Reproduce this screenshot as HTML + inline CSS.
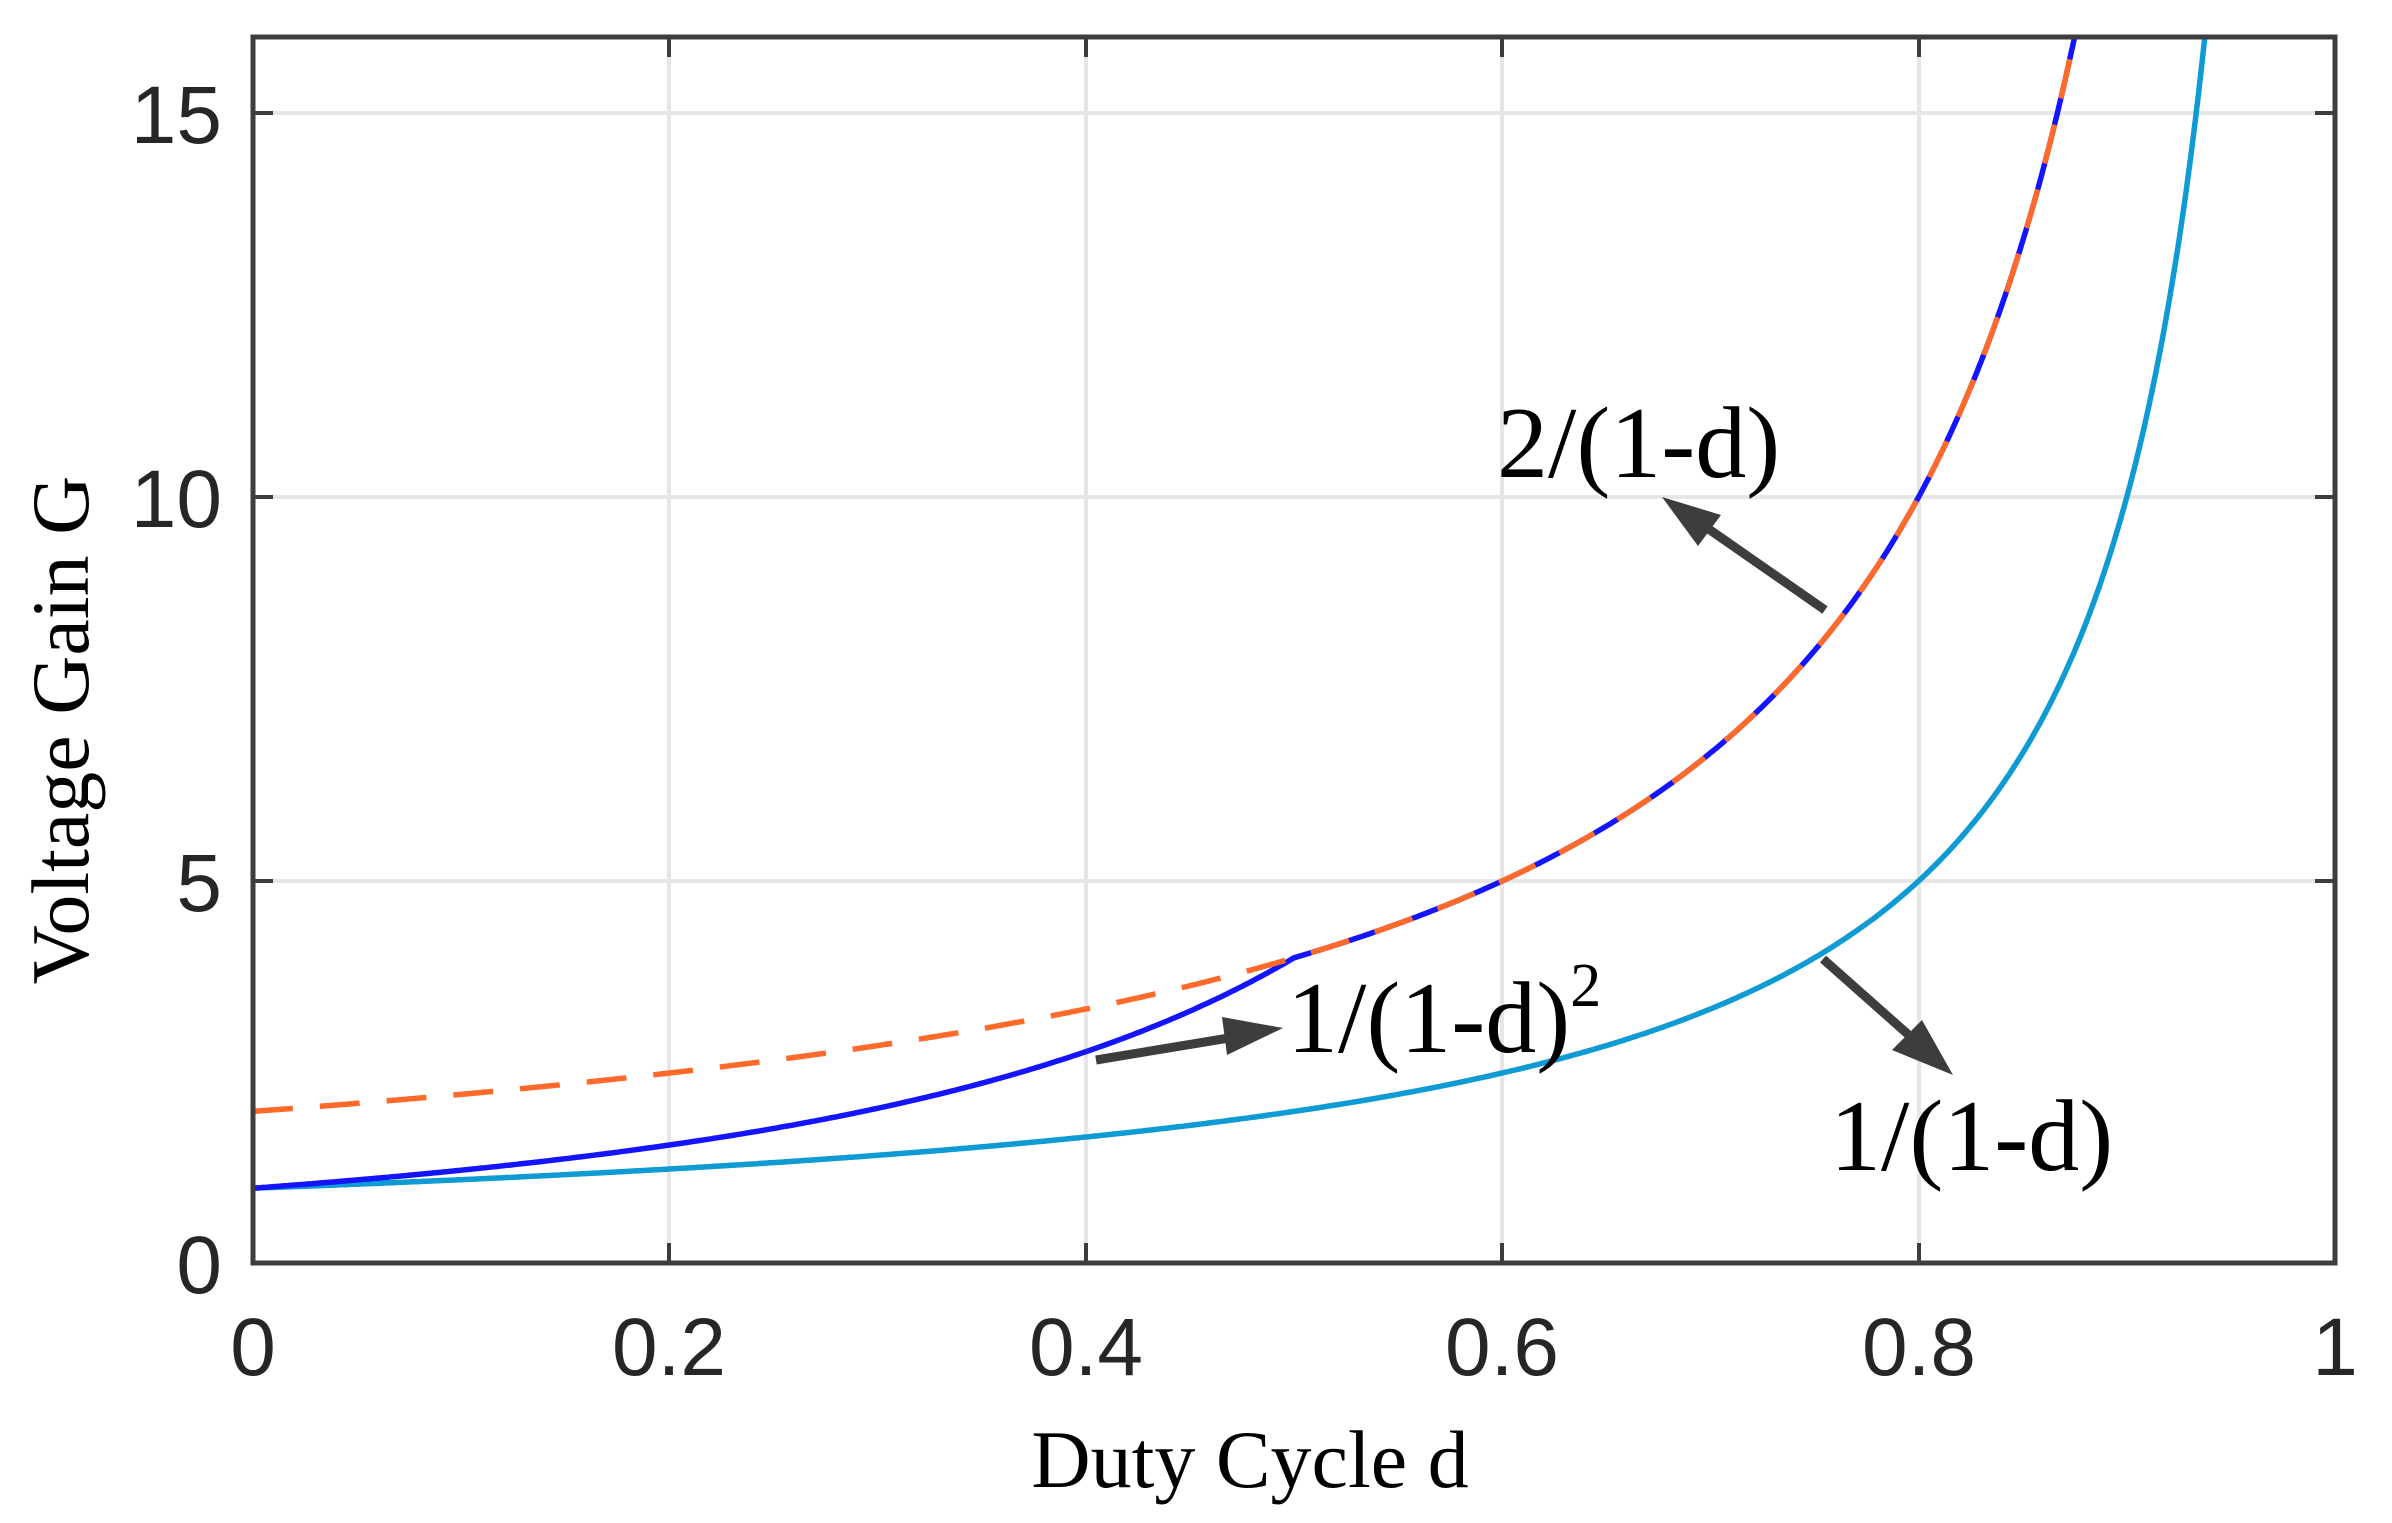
<!DOCTYPE html>
<html><head><meta charset="utf-8"><style>
html,body{margin:0;padding:0;background:#fff;}
svg{display:block;}
.tk{font-family:"Liberation Sans",Arial,sans-serif;font-size:82px;fill:#262626;}
.sr{font-family:"Liberation Serif","Times New Roman",serif;fill:#000;}
</style></head><body>
<svg id="s" width="2392" height="1523" viewBox="0 0 2392 1523" xmlns="http://www.w3.org/2000/svg">
<rect width="2392" height="1523" fill="#fff"/>
<g id="grid" stroke="#e6e6e6" stroke-width="4">
<line x1="669" y1="37" x2="669" y2="1263"/>
<line x1="1086" y1="37" x2="1086" y2="1263"/>
<line x1="1502" y1="37" x2="1502" y2="1263"/>
<line x1="1919" y1="37" x2="1919" y2="1263"/>
<line x1="253" y1="113" x2="2335" y2="113"/>
<line x1="253" y1="497" x2="2335" y2="497"/>
<line x1="253" y1="881" x2="2335" y2="881"/>
</g>
<g id="curves" fill="none" stroke-width="5" stroke-linejoin="round"></g>
<rect x="253" y="37" width="2082" height="1226" fill="none" stroke="#3d3d3d" stroke-width="5"/>
<g stroke="#3d3d3d" stroke-width="4">
<line x1="669" y1="1263" x2="669" y2="1243"/><line x1="1086" y1="1263" x2="1086" y2="1243"/>
<line x1="1502" y1="1263" x2="1502" y2="1243"/><line x1="1919" y1="1263" x2="1919" y2="1243"/>
<line x1="669" y1="37" x2="669" y2="57"/><line x1="1086" y1="37" x2="1086" y2="57"/>
<line x1="1502" y1="37" x2="1502" y2="57"/><line x1="1919" y1="37" x2="1919" y2="57"/>
<line x1="253" y1="113" x2="273" y2="113"/><line x1="253" y1="497" x2="273" y2="497"/><line x1="253" y1="881" x2="273" y2="881"/>
<line x1="2335" y1="113" x2="2315" y2="113"/><line x1="2335" y1="497" x2="2315" y2="497"/><line x1="2335" y1="881" x2="2315" y2="881"/>
</g>
<g class="tk" text-anchor="end">
<text x="222" y="143">15</text>
<text x="222" y="527">10</text>
<text x="222" y="911">5</text>
<text x="222" y="1293">0</text>
</g>
<g class="tk" text-anchor="middle">
<text x="253" y="1375">0</text>
<text x="669" y="1375">0.2</text>
<text x="1086" y="1375">0.4</text>
<text x="1502" y="1375">0.6</text>
<text x="1919" y="1375">0.8</text>
<text x="2335" y="1375">1</text>
</g>
<text class="sr" x="1250" y="1487" font-size="82" text-anchor="middle">Duty Cycle d</text>
<text class="sr" transform="translate(88,730) rotate(-90)" font-size="82" text-anchor="middle">Voltage Gain G</text>
<text class="sr" x="1497" y="477" font-size="102">2/(1-d)</text>
<text class="sr" x="1287" y="1052" font-size="102">1/(1-d)<tspan font-size="62" dy="-46">2</tspan></text>
<text class="sr" x="1830" y="1170" font-size="102">1/(1-d)</text>
<g stroke="#3d3d3d" stroke-width="9" fill="#3d3d3d">
<line x1="1825" y1="610" x2="1700" y2="523"/>
<polygon points="1662,497 1721,515 1698,546" stroke="none"/>
<line x1="1096" y1="1060" x2="1235" y2="1037"/>
<polygon points="1283,1028 1222,1017 1227,1055" stroke="none"/>
<line x1="1823" y1="959" x2="1920" y2="1045"/>
<polygon points="1953,1075 1922,1020 1892,1050" stroke="none"/>
</g>
</svg>
<script>
(function(){
var X=function(d){return 253+d*2082;},Y=function(g){return 1265-g*76.8;};
function path(f,a,b,n){var s="";for(var i=0;i<=n;i++){var d=a+(b-a)*i/n;s+=(i?"L":"M")+X(d).toFixed(1)+","+Y(f(d)).toFixed(1);}return s;}
var g=document.getElementById("curves"),NS="http://www.w3.org/2000/svg";
function add(dd,c,dash){var p=document.createElementNS(NS,"path");p.setAttribute("d",dd);p.setAttribute("stroke",c);p.setAttribute("stroke-width","5.5");p.setAttribute("fill","none");if(dash)p.setAttribute("stroke-dasharray",dash);g.appendChild(p);}
var inv=function(d){return 1/(1-d);},sq=function(d){return 1/((1-d)*(1-d));},two=function(d){return 2/(1-d);};
add(path(inv,0,0.9375,600),"#0e9ad3");
add(path(sq,0,0.5,300)+path(two,0.5,0.875,400).replace(/^M/,"L"),"#1414ff");
add(path(two,0,0.875,700),"#ff6a2a","40 27");
})();
</script>
</body></html>
